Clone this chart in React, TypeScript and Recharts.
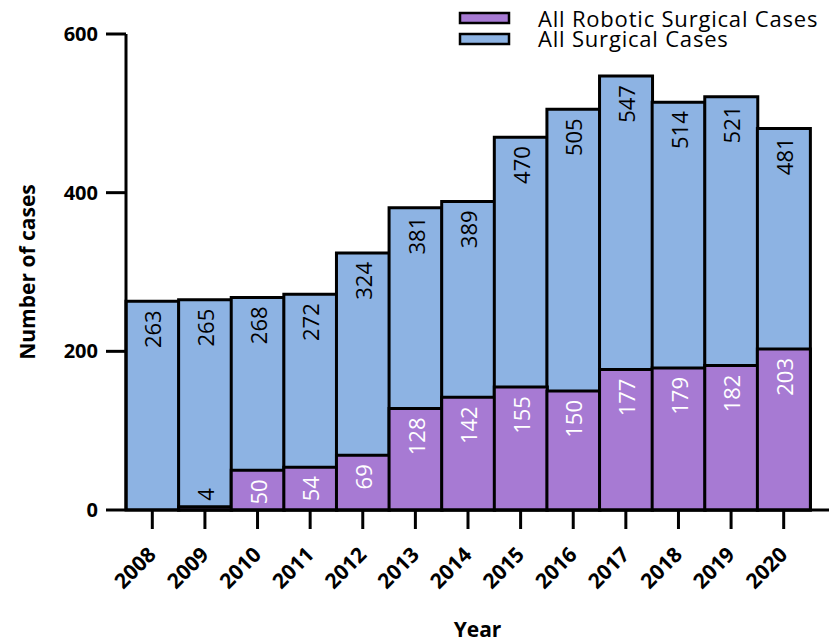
import React from 'react';
import { BarChart, Bar, XAxis, YAxis, LabelList, Legend } from 'recharts';

const years = ['2008', '2009', '2010', '2011', '2012', '2013', '2014', '2015', '2016', '2017', '2018', '2019', '2020'];
const allSurgicalCases = [263, 265, 268, 272, 324, 381, 389, 470, 505, 547, 514, 521, 481];
const roboticCases = [0, 4, 50, 54, 69, 128, 142, 155, 150, 177, 179, 182, 203];
const yTicks = [0, 200, 400, 600];

const seriesNames = { robotic: 'All Robotic Surgical Cases', total: 'All Surgical Cases' };
const BLUE = '#8DB3E3';
const PURPLE = '#A77AD3';
const FONT = '"Open Sans", "Noto Sans", sans-serif';

const data = years.map((y, i) => ({ year: y, total: allSurgicalCases[i], robotic: roboticCases[i] }));

const makeLabel = (isRobotic: boolean) => (props: any) => {
  const { x, y, width, value } = props;
  if (!value) return null;
  const cx = Number(x) + Number(width) / 2;
  const top = Number(y);
  if (isRobotic && value < 20) {
    const ay = top - 6;
    return (
      <text x={cx} y={ay} transform={`rotate(-90, ${cx}, ${ay})`} textAnchor="start" dominantBaseline="central"
        fontFamily={FONT} fontSize={22} fill="#000">{value}</text>
    );
  }
  const ay = top + 9;
  return (
    <text x={cx} y={ay} transform={`rotate(-90, ${cx}, ${ay})`} textAnchor="end" dominantBaseline="central"
      fontFamily={FONT} fontSize={22} fill={isRobotic ? '#fff' : '#000'}>{value}</text>
  );
};

const XTick = (props: any) => {
  const { x, y, payload } = props;
  const ax = x + 5;
  const ay = y + 25;
  return (
    <text x={ax} y={ay} transform={`rotate(-45, ${ax}, ${ay})`} textAnchor="end"
      fontFamily={FONT} fontWeight={700} fontSize={21} fill="#000">{payload.value}</text>
  );
};

const LegendContent = () => (
  <svg width={390} height={52}>
    <rect x={6} y={13} width={49} height={10} fill={PURPLE} stroke="#000" strokeWidth={2.5} />
    <rect x={6} y={34} width={49} height={10} fill={BLUE} stroke="#000" strokeWidth={2.5} />
    <text x={84} y={27} fontFamily={FONT} fontSize={22} letterSpacing={0.8} fill="#000">{seriesNames.robotic}</text>
    <text x={84} y={47} fontFamily={FONT} fontSize={22} letterSpacing={0.8} fill="#000">{seriesNames.total}</text>
  </svg>
);

export default function App() {
  return (
    <div style={{ position: 'absolute', left: 0, top: 0, background: '#fff' }}>
      <BarChart width={831} height={642} data={data} margin={{ top: 34, right: 2, bottom: 0, left: 0 }}
        barCategoryGap={0} barGap={0}>
        <XAxis xAxisId="main" dataKey="year" height={132} padding={{ left: 0, right: 19 }}
          axisLine={{ stroke: '#000', strokeWidth: 3 }} tickLine={{ stroke: '#000', strokeWidth: 3 }}
          tickSize={19} tick={<XTick />} interval={0}
          label={{ value: 'Year', position: 'insideBottom', offset: 5, style: { fontFamily: FONT, fontWeight: 700, fontSize: 21, fill: '#000' } }} />
        <XAxis xAxisId="front" dataKey="year" height={0} padding={{ left: 0, right: 19 }} hide />
        <YAxis xAxisId="main" width={126} domain={[0, 600]} ticks={yTicks} interval={0}
          axisLine={{ stroke: '#000', strokeWidth: 3 }} tickLine={{ stroke: '#000', strokeWidth: 3 }}
          tickSize={20} tickMargin={8}
          tick={{ fontFamily: FONT, fontWeight: 700, fontSize: 20, fill: '#000' }}
          label={{ value: 'Number of cases', angle: -90, position: 'insideLeft', offset: 28, style: { textAnchor: 'middle', fontFamily: FONT, fontWeight: 700, fontSize: 21, fill: '#000' } }} />
        <Legend layout="horizontal" verticalAlign="middle" align="center" content={<LegendContent />}
          wrapperStyle={{ top: 0, left: 454, width: 390, height: 52 }} />
        <Bar xAxisId="main" dataKey="total" name={seriesNames.total} fill={BLUE} stroke="#000" strokeWidth={3} isAnimationActive={false}>
          <LabelList dataKey="total" content={makeLabel(false)} />
        </Bar>
        <Bar xAxisId="front" dataKey="robotic" name={seriesNames.robotic} fill={PURPLE} stroke="#000" strokeWidth={3} isAnimationActive={false}>
          <LabelList dataKey="robotic" content={makeLabel(true)} />
        </Bar>
      </BarChart>
    </div>
  );
}
